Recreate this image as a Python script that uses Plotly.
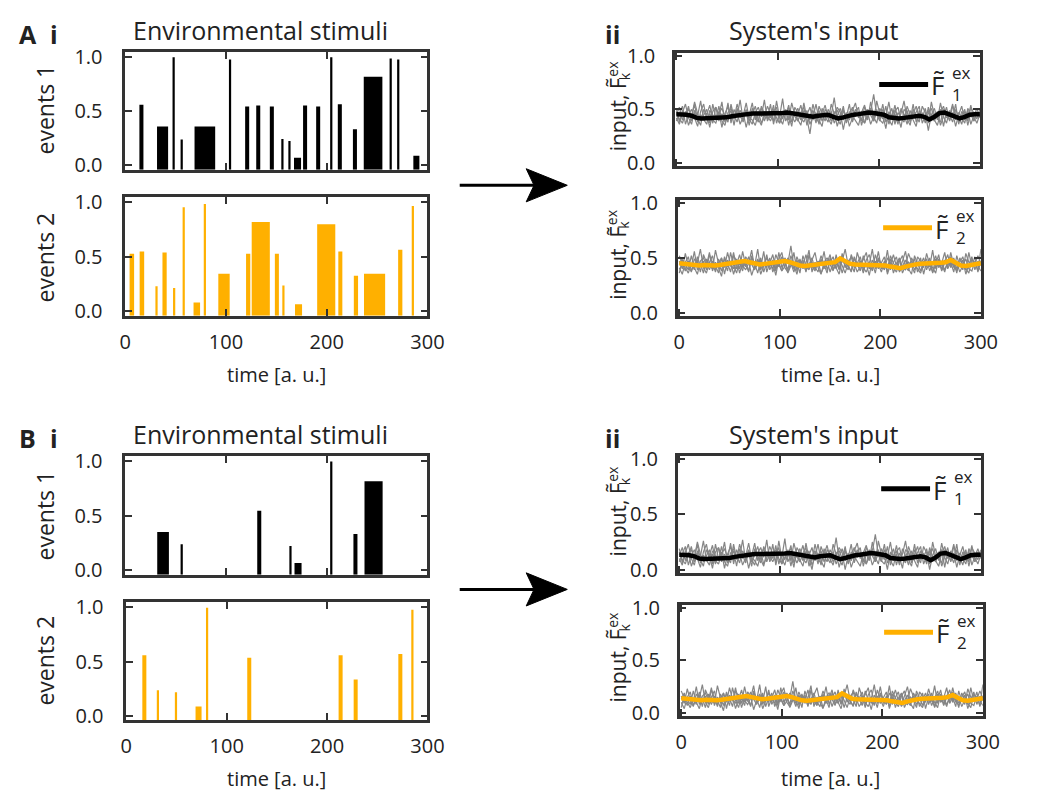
import plotly.graph_objects as go

W, H = 1038, 800

# ---------------- event data (time, duration, amplitude) ----------------
a_ev1_t = [16, 37, 48, 56, 79, 104, 121, 132, 145.5, 156, 163, 171, 178.5, 191.5, 204.5, 213, 228, 246, 263.5, 271, 289]
a_ev1_w = [4, 11, 2.2, 2.2, 20.5, 2.2, 4, 4, 4, 2.2, 2.2, 7, 4, 4, 2.2, 4, 4, 18.5, 2.2, 2.2, 6]
a_ev1_v = [0.56, 0.36, 1.0, 0.24, 0.36, 0.98, 0.545, 0.555, 0.545, 0.245, 0.225, 0.07, 0.555, 0.545, 1.0, 0.565, 0.335, 0.82, 0.99, 0.98, 0.09]

a_ev2_t = [6.5, 16.5, 31, 39, 48.5, 58, 71, 79, 98, 122, 134.5, 150.5, 157, 172, 199.5, 213.5, 229, 247.5, 273, 285.5]
a_ev2_w = [4.5, 4.5, 2.2, 4.2, 2.2, 2.2, 6.5, 2.2, 11.3, 4.2, 18, 4, 2.2, 7, 18, 4, 4.2, 21, 4.2, 2.2]
a_ev2_v = [0.53, 0.55, 0.23, 0.54, 0.215, 0.955, 0.083, 0.985, 0.345, 0.53, 0.82, 0.53, 0.237, 0.065, 0.80, 0.55, 0.328, 0.345, 0.565, 0.967]

b_ev1_t = [37.5, 56, 133, 164, 171.5, 204.5, 228.5, 246.5]
b_ev1_w = [11.6, 2.2, 4, 2.2, 7, 2.2, 4, 18]
b_ev1_v = [0.353, 0.24, 0.548, 0.225, 0.069, 1.0, 0.335, 0.818]

b_ev2_t = [18, 31.5, 49.5, 72, 80.5, 122.5, 213.5, 228.5, 273, 285]
b_ev2_w = [4, 2.2, 2.2, 6, 2.2, 4, 4, 4, 4, 2.2]
b_ev2_v = [0.557, 0.234, 0.216, 0.084, 0.997, 0.534, 0.557, 0.333, 0.569, 0.98]

# ---------------- averaged input (sampled every 5 time units) ----------------
mean_times = list(range(0, 301, 5))

a_in1_mean = [0.455, 0.455, 0.45, 0.44, 0.42, 0.415, 0.415, 0.42, 0.425, 0.42, 0.425, 0.435, 0.445, 0.455, 0.455, 0.46,
              0.46, 0.455, 0.46, 0.465, 0.46, 0.465, 0.47, 0.46, 0.455, 0.445, 0.435, 0.43, 0.44, 0.445, 0.45, 0.43,
              0.415, 0.425, 0.44, 0.45, 0.455, 0.465, 0.47, 0.465, 0.455, 0.45, 0.425, 0.415, 0.415, 0.42, 0.425,
              0.425, 0.44, 0.43, 0.405, 0.43, 0.465, 0.47, 0.455, 0.43, 0.415, 0.43, 0.45, 0.455, 0.455]
a_in2_mean = [0.45, 0.445, 0.43, 0.425, 0.43, 0.435, 0.43, 0.43, 0.435, 0.44, 0.445, 0.455, 0.465, 0.47, 0.46, 0.445,
              0.44, 0.445, 0.45, 0.455, 0.465, 0.47, 0.46, 0.44, 0.43, 0.425, 0.43, 0.435, 0.44, 0.445, 0.445, 0.46,
              0.495, 0.47, 0.445, 0.44, 0.44, 0.435, 0.435, 0.435, 0.43, 0.43, 0.42, 0.41, 0.405, 0.42, 0.435, 0.44,
              0.445, 0.445, 0.45, 0.45, 0.455, 0.46, 0.48, 0.455, 0.43, 0.425, 0.43, 0.44, 0.45]
b_in1_mean = [0.135, 0.135, 0.13, 0.12, 0.10, 0.095, 0.095, 0.10, 0.105, 0.10, 0.105, 0.115, 0.125, 0.135, 0.135, 0.14,
              0.14, 0.135, 0.14, 0.145, 0.14, 0.145, 0.15, 0.14, 0.135, 0.125, 0.115, 0.11, 0.12, 0.125, 0.13, 0.11,
              0.095, 0.105, 0.12, 0.13, 0.135, 0.145, 0.15, 0.145, 0.135, 0.13, 0.105, 0.095, 0.095, 0.10, 0.105,
              0.105, 0.12, 0.11, 0.085, 0.11, 0.145, 0.15, 0.135, 0.11, 0.095, 0.11, 0.13, 0.135, 0.135]
b_in2_mean = [0.14, 0.135, 0.12, 0.115, 0.12, 0.125, 0.12, 0.12, 0.125, 0.13, 0.135, 0.145, 0.155, 0.16, 0.15, 0.135,
              0.13, 0.135, 0.14, 0.145, 0.155, 0.16, 0.15, 0.13, 0.12, 0.115, 0.12, 0.125, 0.13, 0.135, 0.135, 0.15,
              0.185, 0.16, 0.135, 0.13, 0.13, 0.125, 0.125, 0.125, 0.12, 0.12, 0.11, 0.10, 0.095, 0.11, 0.125, 0.13,
              0.135, 0.135, 0.14, 0.14, 0.145, 0.15, 0.17, 0.145, 0.12, 0.115, 0.12, 0.13, 0.14]

# ---------------- single-trial inputs (sampled every 3 time units) ----------------
run_times = list(range(0, 301, 3))

a_in1_runs = [
    [0.51, 0.38, 0.47, 0.55, 0.42, 0.36, 0.49, 0.44, 0.58, 0.40, 0.45, 0.33, 0.48, 0.52, 0.39, 0.46, 0.41, 0.56, 0.37, 0.50,
     0.43, 0.59, 0.40, 0.47, 0.35, 0.51, 0.44, 0.38, 0.53, 0.46, 0.41, 0.55, 0.36, 0.49, 0.43, 0.60, 0.39, 0.45, 0.34, 0.52,
     0.47, 0.40, 0.56, 0.42, 0.27, 0.48, 0.37, 0.53, 0.45, 0.39, 0.50, 0.44, 0.61, 0.41, 0.36, 0.49, 0.43, 0.55, 0.38, 0.47,
     0.52, 0.35, 0.46, 0.40, 0.57, 0.43, 0.37, 0.51, 0.45, 0.32, 0.48, 0.42, 0.54, 0.39, 0.46, 0.58, 0.41, 0.35, 0.50, 0.44,
     0.38, 0.53, 0.47, 0.30, 0.45, 0.51, 0.40, 0.56, 0.43, 0.37, 0.49, 0.42, 0.55, 0.36, 0.48, 0.44, 0.39, 0.52, 0.46, 0.41, 0.50],
    [0.39, 0.47, 0.53, 0.36, 0.45, 0.50, 0.41, 0.34, 0.48, 0.55, 0.40, 0.46, 0.37, 0.52, 0.44, 0.57, 0.38, 0.43, 0.49, 0.35,
     0.51, 0.42, 0.47, 0.33, 0.45, 0.56, 0.40, 0.48, 0.37, 0.43, 0.53, 0.46, 0.39, 0.58, 0.42, 0.36, 0.47, 0.51, 0.44, 0.38,
     0.45, 0.54, 0.41, 0.49, 0.36, 0.43, 0.55, 0.40, 0.34, 0.50, 0.46, 0.39, 0.44, 0.52, 0.47, 0.31, 0.45, 0.40, 0.49, 0.56,
     0.42, 0.48, 0.37, 0.44, 0.51, 0.39, 0.58, 0.46, 0.41, 0.53, 0.36, 0.45, 0.49, 0.43, 0.33, 0.50, 0.47, 0.40, 0.55, 0.38,
     0.46, 0.42, 0.51, 0.37, 0.57, 0.44, 0.48, 0.35, 0.43, 0.52, 0.39, 0.47, 0.34, 0.45, 0.53, 0.40, 0.49, 0.36, 0.44, 0.51, 0.42],
    [0.45, 0.52, 0.40, 0.48, 0.35, 0.43, 0.57, 0.46, 0.39, 0.44, 0.50, 0.37, 0.55, 0.42, 0.48, 0.33, 0.46, 0.53, 0.40, 0.45,
     0.38, 0.49, 0.44, 0.56, 0.41, 0.36, 0.47, 0.52, 0.43, 0.59, 0.39, 0.45, 0.50, 0.42, 0.37, 0.48, 0.44, 0.54, 0.38, 0.46,
     0.41, 0.35, 0.49, 0.45, 0.52, 0.40, 0.47, 0.36, 0.51, 0.43, 0.38, 0.55, 0.46, 0.49, 0.42, 0.53, 0.37, 0.48, 0.44, 0.40,
     0.35, 0.47, 0.54, 0.42, 0.48, 0.64, 0.45, 0.39, 0.50, 0.43, 0.57, 0.40, 0.46, 0.36, 0.51, 0.44, 0.49, 0.38, 0.45, 0.53,
     0.41, 0.47, 0.37, 0.52, 0.43, 0.39, 0.46, 0.50, 0.34, 0.48, 0.44, 0.55, 0.40, 0.47, 0.42, 0.37, 0.51, 0.45, 0.39, 0.48, 0.44],
    [0.42, 0.36, 0.49, 0.44, 0.53, 0.39, 0.47, 0.41, 0.35, 0.50, 0.45, 0.54, 0.40, 0.37, 0.46, 0.51, 0.43, 0.38, 0.55, 0.42,
     0.47, 0.36, 0.44, 0.50, 0.39, 0.45, 0.53, 0.41, 0.35, 0.48, 0.44, 0.39, 0.46, 0.52, 0.37, 0.43, 0.49, 0.40, 0.56, 0.45,
     0.51, 0.42, 0.38, 0.46, 0.40, 0.55, 0.43, 0.49, 0.39, 0.47, 0.41, 0.36, 0.48, 0.34, 0.44, 0.50, 0.38, 0.46, 0.52, 0.43,
     0.48, 0.41, 0.37, 0.50, 0.44, 0.39, 0.47, 0.42, 0.55, 0.38, 0.44, 0.51, 0.36, 0.47, 0.42, 0.38, 0.53, 0.45, 0.40, 0.34,
     0.49, 0.43, 0.39, 0.46, 0.51, 0.40, 0.35, 0.47, 0.53, 0.42, 0.45, 0.38, 0.50, 0.43, 0.36, 0.48, 0.41, 0.54, 0.39, 0.46, 0.43],
    [0.48, 0.41, 0.37, 0.46, 0.50, 0.43, 0.55, 0.38, 0.45, 0.40, 0.36, 0.49, 0.44, 0.40, 0.53, 0.39, 0.35, 0.47, 0.51, 0.41,
     0.55, 0.45, 0.38, 0.49, 0.43, 0.40, 0.35, 0.46, 0.51, 0.39, 0.47, 0.42, 0.54, 0.37, 0.46, 0.41, 0.50, 0.35, 0.48, 0.43,
     0.39, 0.47, 0.52, 0.35, 0.44, 0.49, 0.41, 0.38, 0.46, 0.54, 0.42, 0.48, 0.37, 0.45, 0.51, 0.40, 0.47, 0.34, 0.43, 0.50,
     0.45, 0.39, 0.52, 0.47, 0.36, 0.44, 0.50, 0.40, 0.37, 0.46, 0.41, 0.35, 0.48, 0.52, 0.40, 0.45, 0.36, 0.49, 0.42, 0.47,
     0.53, 0.37, 0.44, 0.49, 0.39, 0.46, 0.42, 0.38, 0.50, 0.45, 0.40, 0.53, 0.46, 0.38, 0.44, 0.50, 0.35, 0.47, 0.43, 0.37, 0.46],
]

a_in2_runs = [
    [0.47, 0.40, 0.54, 0.43, 0.37, 0.49, 0.45, 0.58, 0.41, 0.36, 0.46, 0.52, 0.39, 0.44, 0.50, 0.35, 0.48, 0.42, 0.55, 0.40,
     0.45, 0.38, 0.51, 0.47, 0.34, 0.43, 0.49, 0.41, 0.56, 0.37, 0.46, 0.53, 0.40, 0.44, 0.38, 0.50, 0.45, 0.61, 0.42, 0.47,
     0.36, 0.52, 0.43, 0.39, 0.48, 0.55, 0.41, 0.35, 0.46, 0.50, 0.44, 0.38, 0.53, 0.40, 0.47, 0.58, 0.43, 0.37, 0.49, 0.45,
     0.51, 0.39, 0.44, 0.34, 0.48, 0.42, 0.56, 0.40, 0.46, 0.37, 0.52, 0.45, 0.41, 0.49, 0.36, 0.43, 0.54, 0.47, 0.39, 0.44,
     0.50, 0.35, 0.46, 0.42, 0.57, 0.40, 0.48, 0.38, 0.45, 0.53, 0.41, 0.47, 0.36, 0.50, 0.44, 0.39, 0.55, 0.42, 0.46, 0.38, 0.58],
    [0.36, 0.48, 0.44, 0.39, 0.52, 0.41, 0.35, 0.47, 0.50, 0.43, 0.55, 0.38, 0.46, 0.41, 0.33, 0.49, 0.45, 0.37, 0.52, 0.47,
     0.40, 0.56, 0.43, 0.38, 0.50, 0.45, 0.36, 0.48, 0.42, 0.53, 0.39, 0.45, 0.34, 0.49, 0.55, 0.41, 0.37, 0.46, 0.40, 0.51,
     0.44, 0.48, 0.37, 0.53, 0.42, 0.38, 0.47, 0.43, 0.56, 0.39, 0.46, 0.51, 0.41, 0.35, 0.48, 0.44, 0.39, 0.53, 0.45, 0.37,
     0.42, 0.49, 0.55, 0.40, 0.45, 0.36, 0.50, 0.44, 0.41, 0.57, 0.39, 0.46, 0.51, 0.37, 0.43, 0.48, 0.40, 0.35, 0.52, 0.45,
     0.38, 0.47, 0.42, 0.50, 0.36, 0.44, 0.53, 0.39, 0.48, 0.41, 0.55, 0.43, 0.38, 0.46, 0.51, 0.40, 0.36, 0.49, 0.44, 0.52, 0.45],
    [0.52, 0.44, 0.38, 0.47, 0.42, 0.56, 0.39, 0.45, 0.36, 0.49, 0.43, 0.40, 0.57, 0.45, 0.38, 0.51, 0.42, 0.47, 0.35, 0.44,
     0.53, 0.41, 0.48, 0.37, 0.52, 0.43, 0.58, 0.39, 0.46, 0.41, 0.50, 0.37, 0.45, 0.42, 0.51, 0.47, 0.36, 0.43, 0.55, 0.38,
     0.49, 0.40, 0.45, 0.57, 0.37, 0.46, 0.42, 0.52, 0.44, 0.36, 0.50, 0.43, 0.47, 0.39, 0.54, 0.41, 0.48, 0.44, 0.37, 0.55,
     0.46, 0.36, 0.48, 0.53, 0.41, 0.47, 0.40, 0.45, 0.51, 0.35, 0.44, 0.53, 0.42, 0.38, 0.47, 0.56, 0.40, 0.45, 0.49, 0.37,
     0.43, 0.50, 0.39, 0.47, 0.41, 0.36, 0.49, 0.45, 0.55, 0.40, 0.46, 0.37, 0.52, 0.42, 0.48, 0.35, 0.44, 0.51, 0.39, 0.47, 0.43],
    [0.41, 0.35, 0.46, 0.51, 0.38, 0.44, 0.48, 0.37, 0.53, 0.45, 0.39, 0.47, 0.43, 0.36, 0.50, 0.41, 0.55, 0.44, 0.40, 0.49,
     0.36, 0.46, 0.42, 0.51, 0.44, 0.39, 0.47, 0.35, 0.43, 0.50, 0.45, 0.40, 0.53, 0.46, 0.38, 0.42, 0.50, 0.45, 0.37, 0.48,
     0.41, 0.46, 0.38, 0.44, 0.50, 0.39, 0.47, 0.36, 0.42, 0.48, 0.37, 0.45, 0.40, 0.49, 0.43, 0.36, 0.46, 0.51, 0.41, 0.44,
     0.38, 0.52, 0.43, 0.46, 0.38, 0.53, 0.44, 0.37, 0.47, 0.42, 0.49, 0.36, 0.45, 0.50, 0.41, 0.39, 0.46, 0.43, 0.36, 0.51,
     0.47, 0.41, 0.54, 0.44, 0.37, 0.49, 0.42, 0.46, 0.39, 0.45, 0.51, 0.41, 0.46, 0.37, 0.43, 0.49, 0.40, 0.38, 0.47, 0.42, 0.38],
    [0.44, 0.50, 0.41, 0.36, 0.45, 0.39, 0.51, 0.42, 0.47, 0.39, 0.53, 0.44, 0.37, 0.49, 0.42, 0.46, 0.38, 0.55, 0.43, 0.36,
     0.48, 0.43, 0.39, 0.45, 0.57, 0.40, 0.44, 0.50, 0.37, 0.46, 0.42, 0.48, 0.38, 0.55, 0.41, 0.47, 0.39, 0.52, 0.44, 0.35,
     0.47, 0.43, 0.53, 0.40, 0.46, 0.42, 0.37, 0.49, 0.40, 0.45, 0.53, 0.39, 0.44, 0.48, 0.36, 0.46, 0.42, 0.38, 0.51, 0.43,
     0.47, 0.41, 0.37, 0.44, 0.58, 0.40, 0.48, 0.43, 0.39, 0.50, 0.45, 0.41, 0.37, 0.47, 0.52, 0.42, 0.38, 0.50, 0.44, 0.40,
     0.36, 0.45, 0.49, 0.38, 0.46, 0.52, 0.41, 0.44, 0.37, 0.48, 0.43, 0.50, 0.40, 0.45, 0.39, 0.54, 0.46, 0.42, 0.51, 0.37, 0.47],
]

b_in1_runs = [
    [0.13, 0.20, 0.08, 0.16, 0.03, 0.11, 0.25, 0.14, 0.07, 0.12, 0.18, 0.05, 0.23, 0.10, 0.16, 0.01, 0.14, 0.21, 0.08, 0.13,
     0.06, 0.17, 0.12, 0.24, 0.09, 0.04, 0.15, 0.20, 0.11, 0.27, 0.07, 0.13, 0.18, 0.10, 0.05, 0.16, 0.12, 0.22, 0.06, 0.14,
     0.09, 0.03, 0.17, 0.13, 0.20, 0.08, 0.15, 0.04, 0.19, 0.11, 0.06, 0.23, 0.14, 0.17, 0.10, 0.21, 0.05, 0.16, 0.12, 0.08,
     0.03, 0.15, 0.22, 0.10, 0.16, 0.32, 0.13, 0.07, 0.18, 0.11, 0.25, 0.08, 0.14, 0.04, 0.19, 0.12, 0.17, 0.06, 0.13, 0.21,
     0.09, 0.15, 0.05, 0.20, 0.11, 0.07, 0.14, 0.18, 0.02, 0.16, 0.12, 0.23, 0.08, 0.15, 0.10, 0.05, 0.19, 0.13, 0.07, 0.16, 0.12],
    [0.19, 0.06, 0.15, 0.23, 0.10, 0.04, 0.17, 0.12, 0.26, 0.08, 0.13, 0.01, 0.16, 0.20, 0.07, 0.14, 0.09, 0.24, 0.05, 0.18,
     0.11, 0.27, 0.08, 0.15, 0.03, 0.19, 0.12, 0.06, 0.21, 0.14, 0.09, 0.23, 0.04, 0.17, 0.11, 0.28, 0.07, 0.13, 0.02, 0.20,
     0.15, 0.08, 0.24, 0.10, 0.00, 0.16, 0.05, 0.21, 0.13, 0.07, 0.18, 0.12, 0.29, 0.09, 0.04, 0.17, 0.11, 0.23, 0.06, 0.15,
     0.20, 0.03, 0.14, 0.08, 0.25, 0.11, 0.05, 0.19, 0.13, 0.00, 0.16, 0.10, 0.22, 0.07, 0.14, 0.26, 0.09, 0.03, 0.18, 0.12,
     0.06, 0.21, 0.15, 0.00, 0.13, 0.19, 0.08, 0.24, 0.11, 0.05, 0.17, 0.10, 0.23, 0.04, 0.16, 0.12, 0.07, 0.20, 0.14, 0.09, 0.18],
    [0.16, 0.09, 0.05, 0.14, 0.18, 0.11, 0.23, 0.06, 0.13, 0.08, 0.04, 0.17, 0.12, 0.08, 0.21, 0.07, 0.03, 0.15, 0.19, 0.09,
     0.23, 0.13, 0.06, 0.17, 0.11, 0.08, 0.03, 0.14, 0.19, 0.07, 0.15, 0.10, 0.22, 0.05, 0.14, 0.09, 0.18, 0.03, 0.16, 0.11,
     0.07, 0.15, 0.20, 0.03, 0.12, 0.17, 0.09, 0.06, 0.14, 0.22, 0.10, 0.16, 0.05, 0.13, 0.19, 0.08, 0.15, 0.02, 0.11, 0.18,
     0.13, 0.07, 0.20, 0.15, 0.04, 0.12, 0.18, 0.08, 0.05, 0.14, 0.09, 0.03, 0.16, 0.20, 0.08, 0.13, 0.04, 0.17, 0.10, 0.15,
     0.21, 0.05, 0.12, 0.17, 0.07, 0.14, 0.10, 0.06, 0.18, 0.13, 0.08, 0.21, 0.14, 0.06, 0.12, 0.18, 0.03, 0.15, 0.11, 0.05, 0.14],
    [0.07, 0.15, 0.21, 0.04, 0.13, 0.18, 0.09, 0.02, 0.16, 0.23, 0.08, 0.14, 0.05, 0.20, 0.12, 0.25, 0.06, 0.11, 0.17, 0.03,
     0.19, 0.10, 0.15, 0.01, 0.13, 0.24, 0.08, 0.16, 0.05, 0.11, 0.21, 0.14, 0.07, 0.26, 0.10, 0.04, 0.15, 0.19, 0.12, 0.06,
     0.13, 0.22, 0.09, 0.17, 0.04, 0.11, 0.23, 0.08, 0.02, 0.18, 0.14, 0.07, 0.12, 0.20, 0.15, 0.00, 0.13, 0.08, 0.17, 0.24,
     0.10, 0.16, 0.05, 0.12, 0.19, 0.07, 0.26, 0.14, 0.09, 0.21, 0.04, 0.13, 0.17, 0.11, 0.01, 0.18, 0.15, 0.08, 0.23, 0.06,
     0.14, 0.10, 0.19, 0.05, 0.25, 0.12, 0.16, 0.03, 0.11, 0.20, 0.07, 0.15, 0.02, 0.13, 0.21, 0.08, 0.17, 0.04, 0.12, 0.19, 0.10],
    [0.10, 0.04, 0.17, 0.12, 0.21, 0.07, 0.15, 0.09, 0.03, 0.18, 0.13, 0.22, 0.08, 0.05, 0.14, 0.19, 0.11, 0.06, 0.23, 0.10,
     0.15, 0.04, 0.12, 0.18, 0.07, 0.13, 0.21, 0.09, 0.03, 0.16, 0.12, 0.07, 0.14, 0.20, 0.05, 0.11, 0.17, 0.08, 0.24, 0.13,
     0.19, 0.10, 0.06, 0.14, 0.08, 0.23, 0.11, 0.17, 0.07, 0.15, 0.09, 0.04, 0.16, 0.02, 0.12, 0.18, 0.06, 0.14, 0.20, 0.11,
     0.16, 0.09, 0.05, 0.18, 0.12, 0.07, 0.15, 0.10, 0.23, 0.06, 0.12, 0.19, 0.04, 0.15, 0.10, 0.06, 0.21, 0.13, 0.08, 0.02,
     0.17, 0.11, 0.07, 0.14, 0.19, 0.08, 0.03, 0.15, 0.21, 0.10, 0.13, 0.06, 0.18, 0.11, 0.04, 0.16, 0.09, 0.22, 0.07, 0.14, 0.11],
]

b_in2_runs = [
    [0.10, 0.04, 0.15, 0.20, 0.07, 0.13, 0.17, 0.06, 0.22, 0.14, 0.08, 0.16, 0.12, 0.05, 0.19, 0.10, 0.24, 0.13, 0.09, 0.18,
     0.05, 0.15, 0.11, 0.20, 0.13, 0.08, 0.16, 0.04, 0.12, 0.19, 0.14, 0.09, 0.22, 0.15, 0.07, 0.11, 0.19, 0.14, 0.06, 0.17,
     0.10, 0.15, 0.07, 0.13, 0.19, 0.08, 0.16, 0.05, 0.11, 0.17, 0.06, 0.14, 0.09, 0.18, 0.12, 0.05, 0.15, 0.20, 0.10, 0.13,
     0.07, 0.21, 0.12, 0.15, 0.07, 0.22, 0.13, 0.06, 0.16, 0.11, 0.18, 0.05, 0.14, 0.19, 0.10, 0.08, 0.15, 0.12, 0.05, 0.20,
     0.16, 0.10, 0.23, 0.13, 0.06, 0.18, 0.11, 0.15, 0.08, 0.14, 0.20, 0.10, 0.15, 0.06, 0.12, 0.18, 0.09, 0.07, 0.16, 0.11, 0.07],
    [0.05, 0.17, 0.13, 0.08, 0.21, 0.10, 0.04, 0.16, 0.19, 0.12, 0.24, 0.07, 0.15, 0.10, 0.02, 0.18, 0.14, 0.06, 0.21, 0.16,
     0.09, 0.25, 0.12, 0.07, 0.19, 0.14, 0.05, 0.17, 0.11, 0.22, 0.08, 0.14, 0.03, 0.18, 0.24, 0.10, 0.06, 0.15, 0.09, 0.20,
     0.13, 0.17, 0.06, 0.22, 0.11, 0.07, 0.16, 0.12, 0.25, 0.08, 0.15, 0.20, 0.10, 0.04, 0.17, 0.13, 0.08, 0.22, 0.14, 0.06,
     0.11, 0.18, 0.24, 0.09, 0.14, 0.05, 0.19, 0.13, 0.10, 0.26, 0.08, 0.15, 0.20, 0.06, 0.12, 0.17, 0.09, 0.04, 0.21, 0.14,
     0.07, 0.16, 0.11, 0.19, 0.05, 0.13, 0.22, 0.08, 0.17, 0.10, 0.24, 0.12, 0.07, 0.15, 0.20, 0.09, 0.05, 0.18, 0.13, 0.21, 0.14],
    [0.13, 0.19, 0.10, 0.05, 0.14, 0.08, 0.20, 0.11, 0.16, 0.08, 0.22, 0.13, 0.06, 0.18, 0.11, 0.15, 0.07, 0.24, 0.12, 0.05,
     0.17, 0.12, 0.08, 0.14, 0.26, 0.09, 0.13, 0.19, 0.06, 0.15, 0.11, 0.17, 0.07, 0.24, 0.10, 0.16, 0.08, 0.21, 0.13, 0.04,
     0.16, 0.12, 0.22, 0.09, 0.15, 0.11, 0.06, 0.18, 0.09, 0.14, 0.22, 0.08, 0.13, 0.17, 0.05, 0.15, 0.11, 0.07, 0.20, 0.12,
     0.16, 0.10, 0.06, 0.13, 0.27, 0.09, 0.17, 0.12, 0.08, 0.19, 0.14, 0.10, 0.06, 0.16, 0.21, 0.11, 0.07, 0.19, 0.13, 0.09,
     0.05, 0.14, 0.18, 0.07, 0.15, 0.21, 0.10, 0.13, 0.06, 0.17, 0.12, 0.19, 0.09, 0.14, 0.08, 0.23, 0.15, 0.11, 0.20, 0.06, 0.16],
    [0.16, 0.09, 0.23, 0.12, 0.06, 0.18, 0.14, 0.27, 0.10, 0.05, 0.15, 0.21, 0.08, 0.13, 0.19, 0.04, 0.17, 0.11, 0.24, 0.09,
     0.14, 0.07, 0.20, 0.16, 0.03, 0.12, 0.18, 0.10, 0.25, 0.06, 0.15, 0.22, 0.09, 0.13, 0.07, 0.19, 0.14, 0.30, 0.11, 0.16,
     0.05, 0.21, 0.12, 0.08, 0.17, 0.24, 0.10, 0.04, 0.15, 0.19, 0.13, 0.07, 0.22, 0.09, 0.16, 0.27, 0.12, 0.06, 0.18, 0.14,
     0.20, 0.08, 0.13, 0.03, 0.17, 0.11, 0.25, 0.09, 0.15, 0.06, 0.21, 0.14, 0.10, 0.18, 0.05, 0.12, 0.23, 0.16, 0.08, 0.13,
     0.19, 0.04, 0.15, 0.11, 0.26, 0.09, 0.17, 0.07, 0.14, 0.22, 0.10, 0.16, 0.05, 0.19, 0.13, 0.08, 0.24, 0.11, 0.15, 0.07, 0.27],
    [0.21, 0.13, 0.07, 0.16, 0.11, 0.25, 0.08, 0.14, 0.05, 0.18, 0.12, 0.09, 0.26, 0.14, 0.07, 0.20, 0.11, 0.16, 0.04, 0.13,
     0.22, 0.10, 0.17, 0.06, 0.21, 0.12, 0.27, 0.08, 0.15, 0.10, 0.19, 0.06, 0.14, 0.11, 0.20, 0.16, 0.05, 0.12, 0.24, 0.07,
     0.18, 0.09, 0.14, 0.26, 0.06, 0.15, 0.11, 0.21, 0.13, 0.05, 0.19, 0.12, 0.16, 0.08, 0.23, 0.10, 0.17, 0.13, 0.06, 0.24,
     0.15, 0.05, 0.17, 0.22, 0.10, 0.16, 0.09, 0.14, 0.20, 0.04, 0.13, 0.22, 0.11, 0.07, 0.16, 0.25, 0.09, 0.14, 0.18, 0.06,
     0.12, 0.19, 0.08, 0.16, 0.10, 0.05, 0.18, 0.14, 0.24, 0.09, 0.15, 0.06, 0.21, 0.11, 0.17, 0.04, 0.13, 0.20, 0.08, 0.16, 0.12],
]

time_ticks = [0, 100, 200, 300]
value_ticks = [0.0, 0.5, 1.0]

# ---------------- styling ----------------
FONT = "Open Sans"
INK = "#222222"
SPINE = "#333333"
BLACK = "#000000"
ORANGE = "#FFB000"
GREY = "#858585"
EVENT_YLO, EVENT_YHI = -0.04, 1.05
INPUT_YLO, INPUT_YHI = -0.03, 1.03


def px(x):
    return x / W


def py(y):
    return 1 - y / H


fig = go.Figure()
layout_axes = {}

# pixel boxes (left, top, right, bottom) of the eight panels
boxes = {
    1: (122, 42, 431, 163),
    2: (122, 191, 431, 313),
    3: (122, 457, 431, 579),
    4: (123, 607, 431, 728),
    5: (684, 43, 996, 159),
    6: (687, 194, 997, 313),
    7: (687, 457, 997, 577),
    8: (689, 610, 999, 724),
}


def setup_axes(i, xr, yr, show_x, y_standoff):
    l, t, r, b = boxes[i]
    sfx = "" if i == 1 else str(i)
    common = dict(showline=True, linecolor=SPINE, linewidth=2.5, mirror="ticks",
                  ticks="inside", ticklen=7, tickwidth=2, tickcolor=SPINE,
                  showgrid=False, zeroline=False, fixedrange=True,
                  tickfont=dict(family=FONT, size=20, color=INK))
    layout_axes["xaxis" + sfx] = dict(common, domain=[px(l), px(r)], range=xr,
                                      anchor="y" + sfx, tickvals=time_ticks,
                                      showticklabels=show_x, ticklabelstandoff=6)
    layout_axes["yaxis" + sfx] = dict(common, domain=[py(b), py(t)], range=yr,
                                      anchor="x" + sfx, tickvals=value_ticks,
                                      tickformat=".1f", ticklabelstandoff=y_standoff)
    return "x" + sfx, "y" + sfx


def add_events(i, t, w, v, color, show_x):
    xa, ya = setup_axes(i, [0, 300], [EVENT_YLO, EVENT_YHI], show_x, 16)
    fig.add_trace(go.Bar(x=t, y=[val - EVENT_YLO for val in v], base=EVENT_YLO, width=w,
                         marker=dict(color=color, line=dict(width=0)),
                         xaxis=xa, yaxis=ya, hoverinfo="skip"))


def add_inputs(i, runs, mean, color, show_x):
    xa, ya = setup_axes(i, [-1.5, 300], [INPUT_YLO, INPUT_YHI], show_x, 13)
    for run in runs:
        fig.add_trace(go.Scatter(x=run_times[:len(run)], y=run, mode="lines",
                                 line=dict(color=GREY, width=1.2),
                                 xaxis=xa, yaxis=ya, hoverinfo="skip"))
    fig.add_trace(go.Scatter(x=mean_times[:len(mean)], y=mean, mode="lines",
                             line=dict(color=color, width=4.5),
                             xaxis=xa, yaxis=ya, hoverinfo="skip"))


add_events(1, a_ev1_t, a_ev1_w, a_ev1_v, BLACK, False)
add_events(2, a_ev2_t, a_ev2_w, a_ev2_v, ORANGE, True)
add_events(3, b_ev1_t, b_ev1_w, b_ev1_v, BLACK, False)
add_events(4, b_ev2_t, b_ev2_w, b_ev2_v, ORANGE, True)
add_inputs(5, a_in1_runs, a_in1_mean, BLACK, False)
add_inputs(6, a_in2_runs, a_in2_mean, ORANGE, True)
add_inputs(7, b_in1_runs, b_in1_mean, BLACK, False)
add_inputs(8, b_in2_runs, b_in2_mean, ORANGE, True)

# ---------------- text ----------------
annotations = []


def text(x, y, s, size, angle=0, xanchor="center", yanchor="middle", bold=False, align="center"):
    if bold:
        s = "<b>" + s + "</b>"
    annotations.append(dict(x=px(x), y=py(y), xref="paper", yref="paper", text=s,
                            showarrow=False, textangle=angle, xanchor=xanchor,
                            yanchor=yanchor, align=align,
                            font=dict(family=FONT, size=size, color=INK)))


for row_y, letter in ((24, "A"), (438, "B")):
    text(11, row_y, letter, 25, xanchor="left", bold=True)
    text(43, row_y, "i", 25, xanchor="left", bold=True)
    text(611, row_y, "ii", 25, xanchor="left", bold=True)
    text(260, row_y - 4, "Environmental stimuli", 25)
    text(826, row_y - 4, "System's input", 25)

# time axis titles
for x, y in ((277, 373), (277, 788), (843, 373), (843, 788)):
    text(x, y, "time [a. u.]", 20)

# event axis titles
for y, s in ((101, "events 1"), (253, "events 2"), (518, "events 1"), (667, "events 2")):
    text(40, y, s, 23, angle=-90)

# input axis titles, with stacked sub/superscript
for i in (5, 6, 7, 8):
    l, t, r, b = boxes[i]
    cy = (t + b) / 2
    text(626, cy + 6, "input, F\u0303", 21, angle=-90)
    text(620, cy - 42, "ex", 14, angle=-90)
    text(632, cy - 34, "k", 14, angle=-90)

# legends: sample line, symbol, and stacked super/subscript
shapes = []
legend_spots = {5: (893, 75.5, BLACK, "1"), 6: (897, 222.7, ORANGE, "2"),
                7: (895, 490.7, BLACK, "1"), 8: (898, 638, ORANGE, "2")}
for i, (lx, ly, color, k) in legend_spots.items():
    shapes.append(dict(type="line", xref="paper", yref="paper",
                       x0=px(lx), x1=px(lx + 50), y0=py(ly), y1=py(ly),
                       line=dict(color=color, width=5)))
    text(lx + 60, ly + 1, "F\u0303", 26)
    text(lx + 72, ly - 1, "ex<br>" + k, 17, xanchor="left", align="left")

# arrows between the two columns
for ay in (179, 594):
    shapes.append(dict(type="line", xref="paper", yref="paper",
                       x0=px(464), x1=px(545), y0=py(ay), y1=py(ay),
                       line=dict(color=BLACK, width=3)))
    head = "M{},{} L{},{} L{},{} L{},{} Z".format(
        px(574), py(ay), px(532), py(ay - 17), px(540), py(ay), px(532), py(ay + 17))
    shapes.append(dict(type="path", xref="paper", yref="paper", path=head,
                       fillcolor=BLACK, line=dict(color=BLACK, width=1)))

fig.update_layout(width=W, height=H, margin=dict(l=0, r=0, t=0, b=0),
                  paper_bgcolor="white", plot_bgcolor="white", showlegend=False,
                  barmode="overlay", annotations=annotations, shapes=shapes,
                  font=dict(family=FONT, color=INK), **layout_axes)

fig.write_html("out.html", post_script="document.body.style.margin = '0';")
